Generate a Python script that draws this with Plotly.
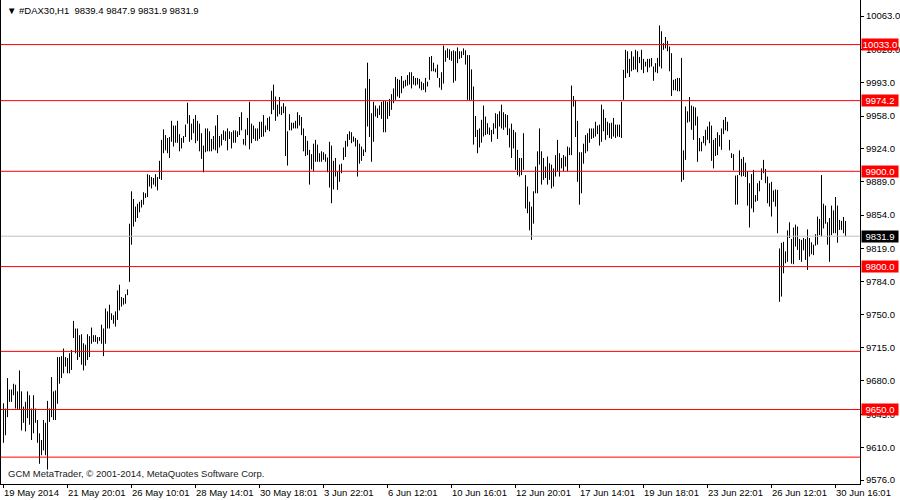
import plotly.graph_objects as go

# ---- data ----
highs = [
    9656.5, 9651, 9683, 9671, 9671, 9677, 9676, 9669, 9691, 9669,
    9653, 9658, 9669, 9665, 9651, 9665, 9651, 9639, 9625, 9618,
    9639, 9636, 9659, 9651, 9684, 9669, 9670, 9705, 9705, 9706,
    9714, 9705, 9704, 9709, 9712.5, 9743, 9735, 9735, 9728, 9729,
    9719.5, 9718, 9729, 9727, 9736, 9728, 9728, 9726, 9726, 9739,
    9735, 9756, 9753, 9760, 9751, 9749, 9753, 9775, 9781, 9768,
    9767, 9771, 9776, 9845, 9879, 9871, 9863, 9866, 9868, 9870,
    9878, 9877, 9897, 9896, 9894, 9893, 9897, 9894, 9911, 9933,
    9944, 9938, 9935, 9936, 9953, 9948, 9948, 9953, 9939, 9935,
    9937, 9949, 9972, 9959, 9950, 9955, 9959, 9953, 9950, 9940,
    9927, 9945, 9945, 9942, 9934, 9937, 9948, 9959, 9937, 9939,
    9943, 9942, 9945, 9942, 9941, 9943, 9943, 9942, 9957, 9962,
    9934, 9944, 9956, 9973, 9950, 9948, 9945, 9945, 9952, 9952,
    9959, 9948, 9956, 9957.5, 9984.5, 9991, 9978.5, 9970, 9978, 9968,
    9971.5, 9968, 9942, 9960, 9951, 9951, 9953, 9962, 9959, 9957,
    9945, 9937, 9932, 9922.5, 9918, 9929, 9933, 9928, 9919, 9921,
    9920, 9918, 9914.5, 9931, 9927, 9911, 9914, 9900, 9907, 9908,
    9925, 9932, 9939, 9942, 9941, 9936.5, 9935, 9933, 9929, 9926,
    9923, 9987, 10014, 9997, 9961, 9973, 9969, 9966, 9969, 9973,
    9974, 9974, 9973, 9976, 9981, 9987, 9999, 9997, 9996, 10000,
    9995, 9996, 10001, 10004, 10004, 10000, 9998, 9998, 9997, 9994,
    9992.5, 9998, 9994, 10020, 10021, 10014, 10008, 10012, 9998, 10004,
    10032, 10027, 10029, 10028, 10026, 10027, 10026, 10030, 10026, 10026,
    10029, 10027, 10022, 10022, 10007, 9989, 9958, 9943.5, 9945, 9954,
    9969, 9957.5, 9950.5, 9946, 9943.5, 9950.5, 9961, 9960, 9963, 9970,
    9962, 9960, 9959, 9945, 9950, 9943.5, 9941, 9922.5, 9914, 9914,
    9940, 9896, 9884, 9868, 9863, 9879, 9905, 9921, 9945, 9921,
    9914, 9905, 9915.5, 9908.5, 9907, 9903, 9917, 9933, 9919, 9914,
    9917, 9915.5, 9926, 9925, 9990, 9979, 9975, 9953, 9920, 9920,
    9929, 9938, 9940, 9945, 9945, 9945, 9952, 9948, 9949, 9970,
    9965, 9956, 9952, 9950.5, 9951, 9956, 9949, 9949, 9949, 9973,
    10006.5, 10027.5, 10026, 10018, 10026, 10020.5, 10027.5, 10026, 10020, 10027.5,
    10018, 10015, 10018, 10018, 10019, 10010, 10013.5, 10019, 10053, 10047,
    10034.5, 10041, 10037, 10031, 10024, 9996, 9997, 9998, 9998, 10019,
    9922, 9968, 9963, 9978, 9969, 9968, 9967, 9957.5, 9935, 9931,
    9937, 9943.5, 9947, 9952, 9948, 9933, 9935, 9941, 9938, 9945,
    9954, 9957, 9952, 9933, 9919, 9918, 9895.5, 9896, 9922, 9913,
    9915, 9909, 9900, 9887.5, 9897, 9901.5, 9875, 9887.5, 9890, 9903,
    9912, 9902.5, 9894.5, 9887.5, 9889, 9880, 9881, 9880.5, 9819, 9825,
    9826, 9816, 9838, 9846.5, 9829, 9841, 9844, 9842, 9829, 9828,
    9830, 9829, 9839, 9830, 9825.5, 9823, 9834, 9852.5, 9850, 9896,
    9866, 9864, 9846.5, 9851, 9864, 9859, 9873, 9864, 9849, 9848,
    9852, 9847.9,
]

lows = [
    9615, 9623, 9642, 9658, 9658, 9665, 9651, 9650, 9650, 9628,
    9636, 9627, 9641, 9634, 9618, 9625, 9636, 9615, 9593, 9602,
    9607, 9602, 9587, 9637, 9642, 9639, 9639, 9656, 9677, 9683,
    9688, 9695, 9688, 9688, 9691.5, 9725, 9709, 9702, 9705, 9697,
    9691, 9696, 9702, 9705, 9719, 9721, 9721, 9719, 9722, 9719,
    9706, 9719, 9735, 9735, 9744, 9740, 9737, 9744, 9754, 9758,
    9760, 9761, 9770, 9784, 9823, 9842, 9847, 9851, 9857, 9862,
    9865, 9872, 9873, 9884, 9882, 9886, 9884, 9880, 9892, 9891,
    9919, 9922, 9919, 9914, 9931, 9926, 9930, 9930, 9921, 9924,
    9930, 9936, 9950, 9931, 9933, 9940, 9929.5, 9932, 9921, 9913,
    9899, 9920, 9921, 9921, 9921, 9923, 9922, 9919, 9925, 9927,
    9933, 9932, 9922, 9934, 9924, 9930, 9930, 9936, 9938, 9943,
    9928, 9927, 9938, 9923, 9929.5, 9934, 9932, 9932, 9934, 9936,
    9936.5, 9941, 9943.5, 9942, 9960, 9964.5, 9953, 9957.5, 9960, 9959,
    9961, 9916, 9906, 9943, 9943, 9945, 9945, 9945, 9948, 9938,
    9921, 9916, 9917, 9886, 9902, 9900, 9910, 9910, 9910, 9910,
    9912, 9910, 9899, 9883, 9866.5, 9881, 9894.5, 9880.5, 9889, 9898,
    9912, 9915, 9926, 9933, 9929.5, 9931, 9926, 9894.5, 9908, 9911,
    9916, 9920, 9947, 9936, 9910, 9931, 9957.5, 9956, 9959, 9955,
    9941, 9941, 9955, 9958, 9964.5, 9971.5, 9975, 9978.5, 9977, 9982,
    9987, 9989, 9990, 9991, 9987, 9991, 9990, 9991, 9987, 9985,
    9985.5, 9983, 9989, 9996, 10005, 10005, 10004, 9998, 9988, 9985.5,
    9992, 10015, 10019, 10017, 10016, 9993, 9995, 10013.5, 10018, 10019,
    10022, 10012, 9975, 9974, 9975, 9928, 9936, 9919, 9925, 9930,
    9936.5, 9938, 9939, 9938, 9931, 9939, 9945, 9934, 9947, 9945,
    9943.5, 9946, 9938, 9925, 9914, 9924, 9901.5, 9896, 9894.5, 9896,
    9901.5, 9861, 9856, 9838, 9828, 9845, 9877, 9877, 9907, 9886,
    9891, 9893, 9886, 9891, 9882, 9884, 9894.5, 9900, 9894.5, 9903,
    9900, 9905, 9900, 9917, 9917, 9968, 9936, 9889, 9865, 9877,
    9908, 9919, 9921, 9930, 9934, 9935, 9936.5, 9939, 9927, 9931,
    9942, 9933, 9938, 9935, 9934, 9936.5, 9935, 9936.5, 9936, 9935,
    9975, 9998, 10003, 9999, 10005, 10006.5, 10007, 10004, 10013.5, 10006.5,
    10003, 10010, 10004, 10009, 10010, 9995, 10004, 10003, 10010, 10008,
    10027.5, 10029, 10026, 10005, 9979, 9985, 9985, 9984, 9984, 9889,
    9891, 9912, 9951, 9952, 9943.5, 9933, 9948, 9910, 9921, 9921,
    9929.5, 9927, 9933, 9929.5, 9911, 9903, 9916, 9917, 9926, 9922.5,
    9939, 9943, 9942, 9922, 9914, 9901, 9865, 9865, 9896, 9894.5,
    9895, 9894, 9864, 9841, 9861, 9857, 9868, 9869, 9879, 9891,
    9898, 9887.5, 9866.5, 9863, 9852.5, 9868, 9863, 9835, 9763, 9768.5,
    9793, 9803.5, 9805, 9830, 9803, 9802.5, 9821, 9817.5, 9807, 9805,
    9817, 9807, 9796.5, 9810.5, 9813, 9812, 9822, 9823, 9833, 9831.5,
    9840, 9845, 9823, 9805, 9833, 9835, 9835, 9825, 9838.5, 9838.5,
    9835, 9831.9,
]

last_ohlc = [9839.4, 9847.9, 9831.9, 9831.9]
symbol = "#DAX30,H1"

red_levels = [10033.0, 9974.2, 9900.0, 9800.0, 9711.0, 9650.0, 9600.0]
labelled_levels = [10033.0, 9974.2, 9900.0, 9800.0, 9650.0]
bid_level = 9831.9

y_ticks = [10063, 10028, 9993, 9958, 9924, 9889, 9854, 9819, 9784,
           9750, 9715, 9680, 9645, 9610, 9576]

x_tick_pos = [0, 32, 64, 96, 128, 160, 192, 224, 256, 288, 320, 352, 384, 416]
x_tick_labels = ["19 May 2014", "21 May 20:01", "26 May 10:01", "28 May 14:01",
                 "30 May 18:01", "3 Jun 22:01", "6 Jun 12:01", "10 Jun 16:01",
                 "12 Jun 20:01", "17 Jun 14:01", "19 Jun 18:01", "23 Jun 22:01",
                 "26 Jun 12:01", "30 Jun 16:01"]

copyright_text = "GCM MetaTrader, © 2001-2014, MetaQuotes Software Corp."

# ---- build figure ----
FONT = "Liberation Sans, Arial, sans-serif"
n = min(len(highs), len(lows))
xs, ys = [], []
for i in range(n):
    xs += [i, i, None]
    ys += [lows[i], highs[i], None]

fig = go.Figure()
fig.add_trace(go.Scatter(x=xs, y=ys, mode="lines",
                         line=dict(color="black", width=1),
                         hoverinfo="skip", showlegend=False))

shapes = []
for lv in red_levels:
    shapes.append(dict(type="line", xref="paper", x0=0, x1=1, yref="y",
                       y0=lv, y1=lv, line=dict(color="#FF0000", width=1),
                       layer="above"))
shapes.append(dict(type="line", xref="paper", x0=0, x1=1, yref="y",
                   y0=bid_level, y1=bid_level,
                   line=dict(color="#C0C0C0", width=1), layer="above"))

annotations = []
for pos, lab in zip(x_tick_pos, x_tick_labels):
    annotations.append(dict(x=pos - 0.6, xref="x", y=0, yref="paper",
                            xanchor="left", yanchor="top", yshift=-1,
                            text=lab, showarrow=False,
                            font=dict(family=FONT, size=9.5, color="black")))
for lv in labelled_levels:
    annotations.append(dict(x=1, xref="paper", y=lv, yref="y",
                            xanchor="left", yanchor="middle", xshift=1,
                            text=f"{lv:.1f}", showarrow=False,
                            bgcolor="#FF0000", width=36, height=11,
                            borderpad=0,
                            font=dict(family=FONT, size=9.5, color="white")))
annotations.append(dict(x=1, xref="paper", y=bid_level, yref="y",
                        xanchor="left", yanchor="middle", xshift=1,
                        text=f"{bid_level:.1f}", showarrow=False,
                        bgcolor="#000000", width=36, height=11, borderpad=0,
                        font=dict(family=FONT, size=9.5, color="white")))
header = "▼ " + symbol + "\u00a0\u00a0" + " ".join(f"{v:.1f}" for v in last_ohlc)
annotations.append(dict(x=0, xref="paper", y=1, yref="paper",
                        xanchor="left", yanchor="top", xshift=4, yshift=-3,
                        text=header, showarrow=False,
                        font=dict(family=FONT, size=9.5, color="black")))
annotations.append(dict(x=0, xref="paper", y=0, yref="paper",
                        xanchor="left", yanchor="bottom", xshift=5, yshift=3,
                        text=copyright_text, showarrow=False,
                        font=dict(family=FONT, size=9.5, color="#1a1a1a")))

fig.update_layout(
    width=900, height=500,
    margin=dict(l=1, r=40, t=0, b=16, pad=0),
    paper_bgcolor="white", plot_bgcolor="white",
    shapes=shapes, annotations=annotations,
    xaxis=dict(range=[-1.25, 428.25], tickvals=x_tick_pos, showticklabels=False,
               ticks="outside", ticklen=3, tickcolor="black",
               showline=True, linecolor="black", linewidth=1,
               showgrid=False, zeroline=False, fixedrange=True),
    yaxis=dict(range=[9571.8, 10079.8], side="right", tickvals=y_ticks,
               ticktext=[f"{v:.1f}" for v in y_ticks],
               ticks="outside", ticklen=3, tickcolor="black",
               tickfont=dict(family=FONT, size=9.5, color="black"),
               showline=True, linecolor="black", linewidth=1, mirror=True,
               showgrid=False, zeroline=False, fixedrange=True,
               automargin=False),
    font=dict(family=FONT, size=9.5, color="black"),
)

fig.write_html("out.html", config={"displayModeBar": False},
               post_script="document.body.style.margin='0px';"
                           "document.body.style.overflow='hidden';")
